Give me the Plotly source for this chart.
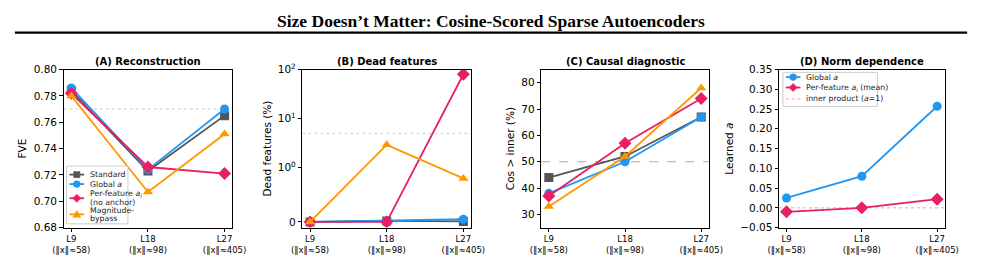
import math
import plotly.graph_objects as go

# ---------------- data ----------------
layers = ["L9<br>(‖x‖≈58)", "L18<br>(‖x‖≈98)", "L27<br>(‖x‖≈405)"]
xpos = [0, 1, 2]

series_names = ["Standard", "Global <i>a</i>", "Per-feature <i>a<sub>i</sub></i>", "Magnitude-bypass"]

fve_standard = [0.784, 0.723, 0.765]
fve_global = [0.786, 0.724, 0.770]
fve_perfeat = [0.782, 0.726, 0.721]
fve_magnitude = [0.780, 0.707, 0.751]
fve_ref = 0.77

dead_standard = [0.0, 0.02, 0.01]
dead_global = [0.0, 0.02, 0.05]
dead_perfeat = [0.0, 0.0, 80.0]
dead_magnitude = [0.0, 2.9, 0.8]
dead_ref = 5.0

cos_standard = [44, 52, 67]
cos_global = [38, 50, 67]
cos_perfeat = [37, 57, 74]
cos_magnitude = [33, 52, 78]
cos_ref = 50

a_global = [0.025, 0.080, 0.257]
a_perfeat = [-0.010, 0.000, 0.022]
a_ref = 0.0

dead_ticks = [0, 1, 10, 100]
dead_ticktext = ["0", "10<sup>0</sup>", "10<sup>1</sup>", "10<sup>2</sup>"]

legend_a_labels = [["Standard"], ["Global <i>a</i>"],
                   ["Per-feature <i>a<sub>i</sub></i>", "(no anchor)"],
                   ["Magnitude-", "bypass"]]
legend_d_labels = ["Global <i>a</i>", "Per-feature <i>a<sub>i</sub></i> (mean)",
                   "inner product (<i>a</i>=1)"]

# ---------------- style ----------------
C_STD = "#555555"
C_GLB = "#2196F3"
C_PF = "#E91E63"
C_MAG = "#FF9800"
FONT = "DejaVu Sans"

LINTHRESH = 1.0
LINSCALE = 1.0 / (1 - 1 / 10.0)


def symlog(v):
    out = []
    for y in v:
        if abs(y) <= LINTHRESH:
            out.append(y / LINTHRESH * LINSCALE)
        else:
            out.append(math.copysign(LINSCALE + math.log10(abs(y) / LINTHRESH), y))
    return out


fig = go.Figure()

H = 262
W = 985
ytop, ybot = 65, 232
panels = [(54, 227), (299, 472), (544, 716), (788, 958)]
ydom = [1 - ybot / H, 1 - ytop / H]

styles = [
    (C_STD, "square"),
    (C_GLB, "circle"),
    (C_PF, "diamond"),
    (C_MAG, "triangle-up"),
]


def axname(ax, letter):
    return letter + ("" if ax == 1 else str(ax))


def add_series(ax, yvals, idx):
    col, sym = styles[idx]
    fig.add_trace(go.Scatter(
        x=xpos, y=yvals, mode="lines+markers",
        line=dict(color=col, width=1.8),
        marker=dict(color=col, symbol=sym, size=9 if sym != "diamond" else 10),
        name=series_names[idx], showlegend=False,
        xaxis=axname(ax, "x"), yaxis=axname(ax, "y"),
    ))


def add_ref(ax, yv, dash, color, width=1.0):
    fig.add_trace(go.Scatter(
        x=[-0.1, 2.1], y=[yv, yv], mode="lines",
        line=dict(color=color, dash=dash, width=width),
        showlegend=False, hoverinfo="skip",
        xaxis=axname(ax, "x"), yaxis=axname(ax, "y"),
    ))


# Panel A
add_ref(1, fve_ref, "dot", "#cccccc")
for i, ys in enumerate([fve_standard, fve_global, fve_perfeat, fve_magnitude]):
    add_series(1, ys, i)

# Panel B
add_ref(2, symlog([dead_ref])[0], "dot", "#cccccc")
for i, ys in enumerate([dead_standard, dead_global, dead_perfeat, dead_magnitude]):
    add_series(2, symlog(ys), i)

# Panel C
add_ref(3, cos_ref, "dash", "#aaaaaa", width=1.2)
for i, ys in enumerate([cos_standard, cos_global, cos_perfeat, cos_magnitude]):
    add_series(3, ys, i)

# Panel D
add_ref(4, a_ref, "dot", "#bbbbbb")
add_series(4, a_global, 1)
add_series(4, a_perfeat, 2)

axis_common = dict(
    showgrid=False, zeroline=False, showline=True, linecolor="black", linewidth=1,
    mirror=True, ticks="outside", ticklen=3.5, tickcolor="black",
)

yaxis_cfg = [
    dict(range=[0.68, 0.80], dtick=0.02, tickformat=".2f", title="FVE"),
    dict(range=[-0.115, LINSCALE + 2], tickvals=symlog(dead_ticks), ticktext=dead_ticktext,
         title="Dead features (%)"),
    dict(range=[25, 85], dtick=10, title="Cos > inner (%)"),
    dict(range=[-0.05, 0.35], dtick=0.05, tickformat=".2f", title="Learned <i>a</i>"),
]
subtitles = ["(A) Reconstruction", "(B) Dead features", "(C) Causal diagnostic", "(D) Norm dependence"]

layout = dict(
    width=W, height=H, margin=dict(l=0, r=0, t=0, b=0),
    paper_bgcolor="white", plot_bgcolor="white",
    font=dict(family=FONT, color="black"),
    showlegend=False,
)
for k, ((x0, x1), ycfg) in enumerate(zip(panels, yaxis_cfg), start=1):
    sfx = "" if k == 1 else str(k)
    xa = dict(axis_common)
    xa.update(domain=[x0 / W, x1 / W], range=[-0.1, 2.1], tickvals=xpos, ticktext=layers,
              tickfont=dict(size=8.5, family=FONT), anchor="y" + sfx)
    ya = dict(axis_common)
    title = ycfg.pop("title")
    ya.update(ycfg)
    ya.update(domain=ydom, anchor="x" + sfx, tickfont=dict(size=10.5, family=FONT),
              title=dict(text=title, font=dict(size=10.5, family=FONT), standoff=4))
    layout["xaxis" + sfx] = xa
    layout["yaxis" + sfx] = ya


# ---------------- hand-built legends (pixel helpers) ----------------
def px(x):
    return x / W


def py(y):
    return 1 - y / H


shapes = [dict(
    type="line", xref="paper", yref="paper", x0=px(4), x1=px(981),
    y0=py(26), y1=py(26), line=dict(color="black", width=2.2),
)]
annotations = [dict(
    text="<b>Size Doesn’t Matter: Cosine-Scored Sparse Autoencoders</b>",
    x=0.5, y=py(14), xref="paper", yref="paper", showarrow=False,
    font=dict(family="Liberation Serif", size=17.5, color="black"),
    xanchor="center", yanchor="middle",
)]
for (x0, x1), t in zip(panels, subtitles):
    annotations.append(dict(
        text="<b>" + t + "</b>", x=(x0 + x1) / 2 / W, y=py(57),
        xref="paper", yref="paper", showarrow=False,
        font=dict(family=FONT, size=10, color="black"),
        xanchor="center", yanchor="middle",
    ))


def marker_shape(sym, cx, cy, col, r=3.6):
    base = dict(xref="paper", yref="paper", fillcolor=col, line=dict(color=col, width=0.5), layer="above")
    if sym == "circle":
        base.update(type="circle", x0=px(cx - r), x1=px(cx + r), y0=py(cy + r), y1=py(cy - r))
    elif sym == "square":
        base.update(type="rect", x0=px(cx - r * 0.9), x1=px(cx + r * 0.9), y0=py(cy + r * 0.9), y1=py(cy - r * 0.9))
    elif sym == "diamond":
        rr = r * 1.2
        pts = [(cx, cy - rr), (cx + rr, cy), (cx, cy + rr), (cx - rr, cy)]
        path = "M " + " L ".join(f"{px(a):.5f},{py(b):.5f}" for a, b in pts) + " Z"
        base.update(type="path", path=path)
    else:
        rr = r * 1.15
        pts = [(cx, cy - rr), (cx + rr, cy + rr * 0.75), (cx - rr, cy + rr * 0.75)]
        path = "M " + " L ".join(f"{px(a):.5f},{py(b):.5f}" for a, b in pts) + " Z"
        base.update(type="path", path=path)
    return base


def legend_box(x0, y0, x1, y1):
    shapes.append(dict(type="rect", xref="paper", yref="paper", layer="above",
                       x0=px(x0), x1=px(x1), y0=py(y1), y1=py(y0),
                       fillcolor="rgba(255,255,255,0.8)", line=dict(color="#cccccc", width=1)))


def legend_text(x, y, text):
    annotations.append(dict(text=text, x=px(x), y=py(y), xref="paper", yref="paper",
                            showarrow=False, xanchor="left", yanchor="middle",
                            font=dict(family=FONT, size=7.8, color="#222222")))


# Legend A
legend_box(57, 167, 120, 228)
rows_a = [(176, [176]), (186, [186]), (201, [197, 205]), (218, [214, 222])]
for idx, ((my, ty), lab) in enumerate(zip(rows_a, legend_a_labels)):
    col, sym = styles[idx]
    shapes.append(dict(type="line", xref="paper", yref="paper", layer="above",
                       x0=px(60), x1=px(75), y0=py(my), y1=py(my), line=dict(color=col, width=1.8)))
    shapes.append(marker_shape(sym, 67.5, my, col))
    for yy, t in zip(ty, lab):
        legend_text(79, yy, t)

# Legend D
legend_box(792, 68, 889, 104)
rows_d = [73, 84, 96]
for k, (yy, lab) in enumerate(zip(rows_d, legend_d_labels)):
    if k < 2:
        col, sym = styles[k + 1]
        shapes.append(dict(type="line", xref="paper", yref="paper", layer="above",
                           x0=px(795), x1=px(810), y0=py(yy), y1=py(yy), line=dict(color=col, width=1.8)))
        shapes.append(marker_shape(sym, 802.5, yy, col))
    else:
        shapes.append(dict(type="line", xref="paper", yref="paper", layer="above",
                           x0=px(795), x1=px(810), y0=py(yy), y1=py(yy),
                           line=dict(color="rgba(233,30,99,0.35)", width=1.2, dash="dot")))
    legend_text(814, yy, lab)

layout["annotations"] = annotations
layout["shapes"] = shapes

fig.update_layout(**layout)
fig.write_html("out.html")
